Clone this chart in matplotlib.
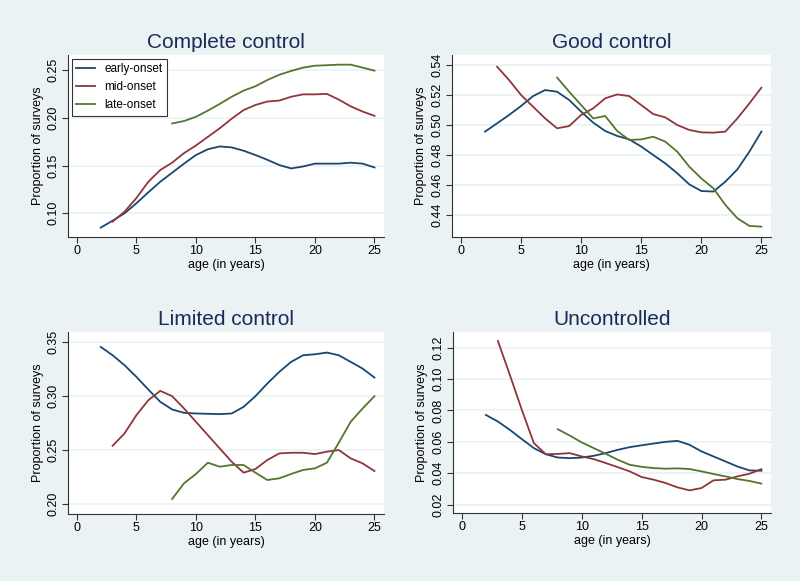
import matplotlib
matplotlib.use("Agg")
import matplotlib.pyplot as plt

plt.rcParams["font.family"] = ["Liberation Sans", "DejaVu Sans"]

BG = "#eaf2f3"
NAVY = "#1a476f"
MAROON = "#90353b"
GREEN = "#55752f"
TITLE_C = "#1a2a5a"

early_age = list(range(2, 26))
mid_age = list(range(3, 26))
late_age = list(range(8, 26))

# Complete control
complete_early = [0.085, 0.0923, 0.100, 0.1105, 0.122, 0.133, 0.1425, 0.152, 0.161, 0.167, 0.170, 0.169,
                  0.1655, 0.161, 0.156, 0.1505, 0.147, 0.149, 0.152, 0.152, 0.152, 0.153, 0.152, 0.148]
complete_mid = [0.0913, 0.1017, 0.116, 0.133, 0.1453, 0.153, 0.163, 0.171, 0.180, 0.189, 0.199, 0.208,
                0.2134, 0.217, 0.218, 0.222, 0.2245, 0.2245, 0.225, 0.219, 0.212, 0.2065, 0.202]
complete_late = [0.194, 0.1966, 0.201, 0.2075, 0.2145, 0.222, 0.2284, 0.233, 0.2395, 0.245, 0.249,
                 0.2525, 0.2545, 0.255, 0.2556, 0.2556, 0.2525, 0.2493]

# Good control
good_early = [0.4956, 0.5011, 0.5067, 0.5127, 0.5193, 0.5233, 0.5222, 0.5167, 0.5089, 0.5016, 0.496, 0.4927,
              0.4904, 0.4856, 0.480, 0.4744, 0.4678, 0.4604, 0.456, 0.4556, 0.4622, 0.4704, 0.4822, 0.4956]
good_mid = [0.5389, 0.530, 0.520, 0.5122, 0.5044, 0.4978, 0.4993, 0.5067, 0.5111, 0.5178, 0.5204, 0.5193,
            0.5133, 0.5073, 0.5051, 0.500, 0.4967, 0.4951, 0.4949, 0.4956, 0.5044, 0.5144, 0.5249]
good_late = [0.5316, 0.5222, 0.5133, 0.5044, 0.506, 0.496, 0.490, 0.4904, 0.4922, 0.4889, 0.4822, 0.4722,
             0.4644, 0.4578, 0.4467, 0.4378, 0.4327, 0.4322]

# Limited control
limited_early = [0.3454, 0.3377, 0.3285, 0.3177, 0.306, 0.2947, 0.2876, 0.2845, 0.2839, 0.2836, 0.2833,
                 0.2839, 0.290, 0.2999, 0.3116, 0.3223, 0.3316, 0.3377, 0.3386, 0.3402, 0.3377, 0.3316,
                 0.3254, 0.3171]
limited_mid = [0.2541, 0.2655, 0.2824, 0.2962, 0.3048, 0.2999, 0.2885, 0.2762, 0.2639, 0.2516, 0.2393,
               0.2292, 0.2326, 0.2409, 0.247, 0.2476, 0.2476, 0.2464, 0.2486, 0.2501, 0.2424, 0.2378, 0.2307]
limited_late = [0.2049, 0.2194, 0.228, 0.2384, 0.2347, 0.2363, 0.2363, 0.2292, 0.2224, 0.224, 0.228,
                0.2317, 0.2332, 0.2384, 0.2569, 0.2762, 0.2885, 0.2999]

# Uncontrolled
unc_early = [0.0771, 0.0729, 0.0676, 0.0617, 0.056, 0.0521, 0.050, 0.0496, 0.050, 0.0511, 0.0528, 0.0549,
             0.0566, 0.0578, 0.0589, 0.060, 0.0606, 0.0581, 0.0539, 0.0507, 0.0475, 0.0443, 0.0418, 0.0416]
unc_mid = [0.1242, 0.1025, 0.0803, 0.0592, 0.0521, 0.0523, 0.0528, 0.0507, 0.049, 0.0465, 0.0439, 0.0412,
           0.0376, 0.0359, 0.0338, 0.031, 0.0291, 0.0306, 0.0355, 0.0359, 0.038, 0.0397, 0.0426]
unc_late = [0.068, 0.064, 0.0596, 0.056, 0.0524, 0.0486, 0.0454, 0.0441, 0.0433, 0.0429, 0.0431, 0.0427,
            0.0412, 0.0395, 0.038, 0.0363, 0.0351, 0.0334]

x_ticks = [0, 5, 10, 15, 20, 25]

panels = [
    ("Complete control", complete_early, complete_mid, complete_late,
     [0.10, 0.15, 0.20, 0.25], (0.0752, 0.2657), (68, 384, 55, 237)),
    ("Good control", good_early, good_mid, good_late,
     [0.44, 0.46, 0.48, 0.50, 0.52, 0.54], (0.4253, 0.5467), (452, 771, 55, 237)),
    ("Limited control", limited_early, limited_mid, limited_late,
     [0.20, 0.25, 0.30, 0.35], (0.191, 0.3592), (68, 384, 332, 514)),
    ("Uncontrolled", unc_early, unc_mid, unc_late,
     [0.02, 0.04, 0.06, 0.08, 0.10, 0.12], (0.0147, 0.1299), (453, 771, 332, 513)),
]

W, H = 800, 581
fig = plt.figure(figsize=(8, 5.81), dpi=100, facecolor=BG)

for i, (title, e, m, l, yt, ylim, box) in enumerate(panels):
    left, right, top, bottom = box
    ax = fig.add_axes([left / W, 1 - bottom / H, (right - left) / W, (bottom - top) / H])
    ax.set_facecolor("white")
    ax.plot(early_age, e, color=NAVY, lw=1.3, label="early-onset")
    ax.plot(mid_age, m, color=MAROON, lw=1.3, label="mid-onset")
    ax.plot(late_age, l, color=GREEN, lw=1.3, label="late-onset")
    ax.set_xlim(-0.75, 25.8)
    ax.set_ylim(*ylim)
    ax.set_xticks(x_ticks)
    ax.set_yticks(yt)
    ax.set_yticklabels([f"{v:.2f}" for v in yt], rotation=90, va="center")
    ax.grid(axis="y", color=BG, lw=1.2)
    ax.set_axisbelow(True)
    for s in ["top", "right"]:
        ax.spines[s].set_visible(False)
    for s in ["left", "bottom"]:
        ax.spines[s].set_color("#333333")
        ax.spines[s].set_linewidth(0.8)
    ax.tick_params(labelsize=9, length=4, width=0.8, color="#333333", pad=2)
    ax.set_xlabel("age (in years)", fontsize=9, labelpad=1)
    ax.set_ylabel("Proportion of surveys", fontsize=9, labelpad=3)
    ax.set_title(title, fontsize=15, color=TITLE_C, pad=5)
    if i == 0:
        leg = ax.legend(loc="upper left", fontsize=8.5, frameon=True, fancybox=False,
                        handlelength=1.6, borderaxespad=0.3, labelspacing=0.5)
        leg.get_frame().set_edgecolor("black")
        leg.get_frame().set_linewidth(0.8)

plt.savefig("out.png", dpi=100, facecolor=BG)
plt.close()
